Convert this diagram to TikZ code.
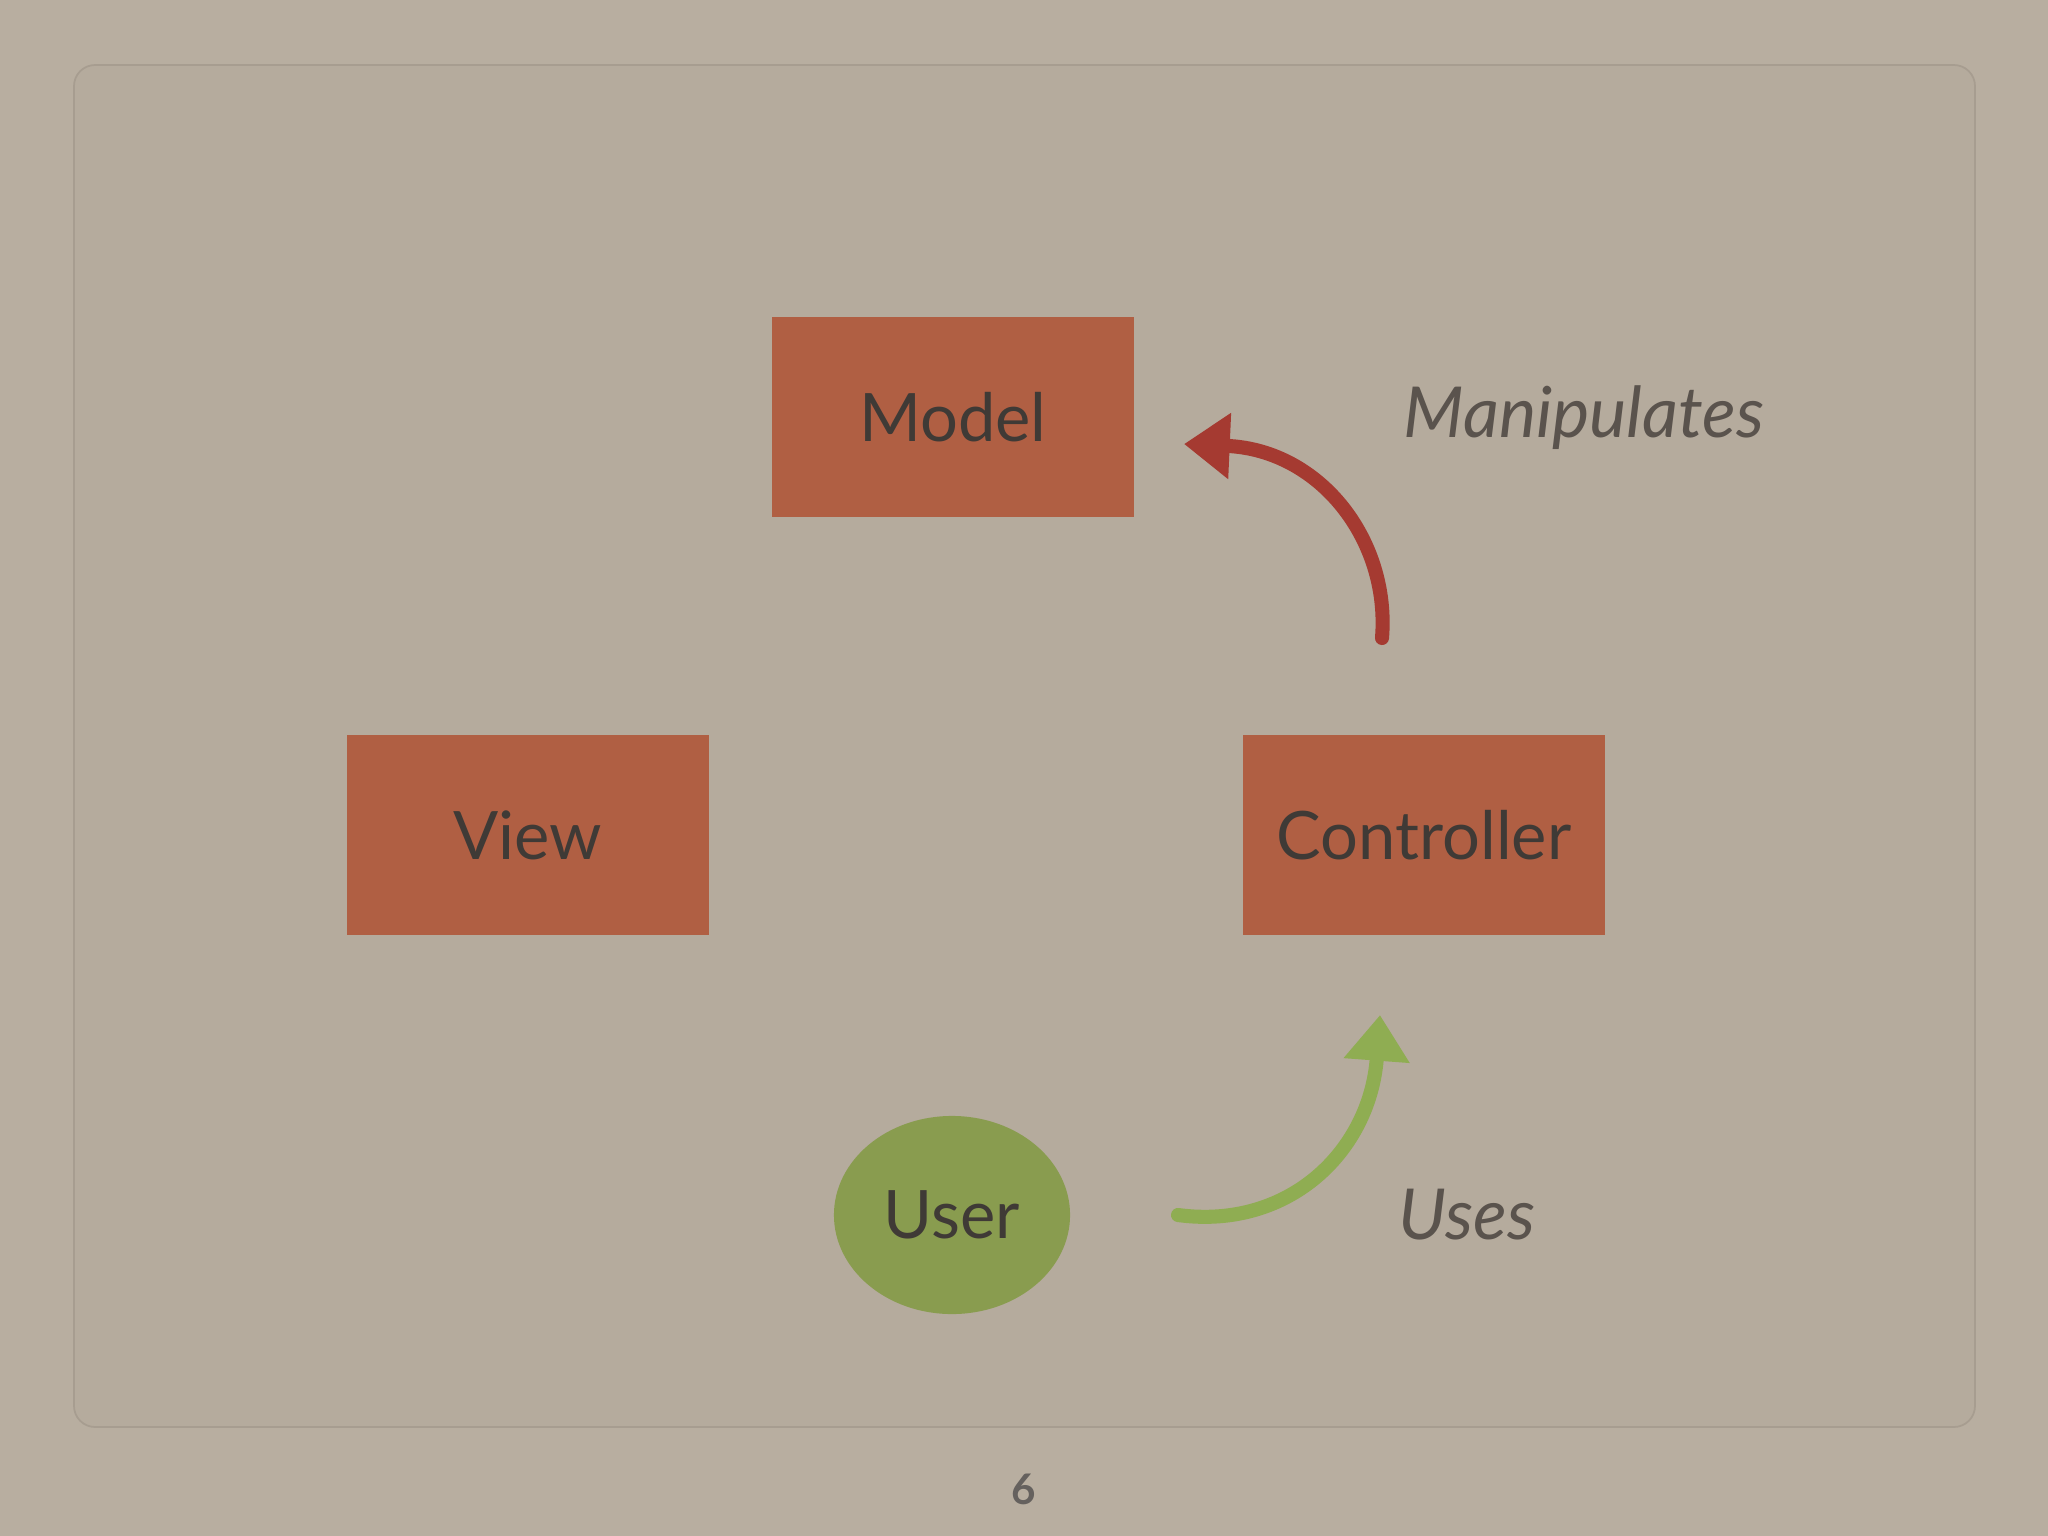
\documentclass[tikz,border=0pt]{standalone}
\usepackage{fontspec}
\setmainfont{Lato}
\usetikzlibrary{arrows.meta,shapes.geometric}
\definecolor{bgc}{HTML}{B8AEA0}
\definecolor{panel}{HTML}{B5AB9D}
\definecolor{boxc}{HTML}{B05F43}
\definecolor{txt}{HTML}{3F3A36}
\definecolor{userc}{HTML}{899C4F}
\definecolor{redarr}{HTML}{A53A31}
\definecolor{grnarr}{HTML}{8FAD52}
\definecolor{lbl}{HTML}{5A534D}
\tikzset{
  mvc/.style={fill=boxc, minimum width=3.62cm, minimum height=2cm, text=txt, font=\fontsize{19}{22}\selectfont, inner sep=0pt},
  lab/.style={text=lbl, font=\itshape\fontsize{20}{24}\selectfont},
  arr/.style={line width=4pt, line cap=round, -{Triangle[length=13pt,width=18pt]}}
}
\begin{document}
\begin{tikzpicture}[x=0.01cm,y=-0.01cm]
\useasboundingbox (0,0) rectangle (2048,1536);
\fill[bgc] (0,0) rectangle (2048,1536);
\draw[panel!92!black, line width=0.5pt, rounded corners=6pt, fill=panel] (74,65) rectangle (1975,1427);
\node[mvc] (model) at (953,417) {Model};
\node[mvc] (view) at (528,835) {View};
\node[mvc] (ctrl) at (1424,835) {Controller};
\node[ellipse, fill=userc, minimum width=2.36cm, minimum height=1.98cm, text=txt, font=\fontsize{19}{22}\selectfont, inner sep=0pt] (user) at (952,1215) {User};
\node[lab] (manip) at (1584,418) {Manipulates};
\node[lab] (uses) at (1467,1215) {Uses};
\node[text=txt!80, font=\bfseries\fontsize{12}{14}\selectfont] (pg) at (1024,1489) {6};
\coordinate (ra) at (1382,638);
\coordinate (rb) at (1184,444);
\coordinate (ga) at (1178,1215);
\coordinate (gb) at (1380,1015);
\draw[arr, redarr] (ra) .. controls (1390,540) and (1320,450) .. (rb);
\draw[arr, grnarr] (ga) .. controls (1290,1230) and (1370,1150) .. (gb);
\end{tikzpicture}
\end{document}
